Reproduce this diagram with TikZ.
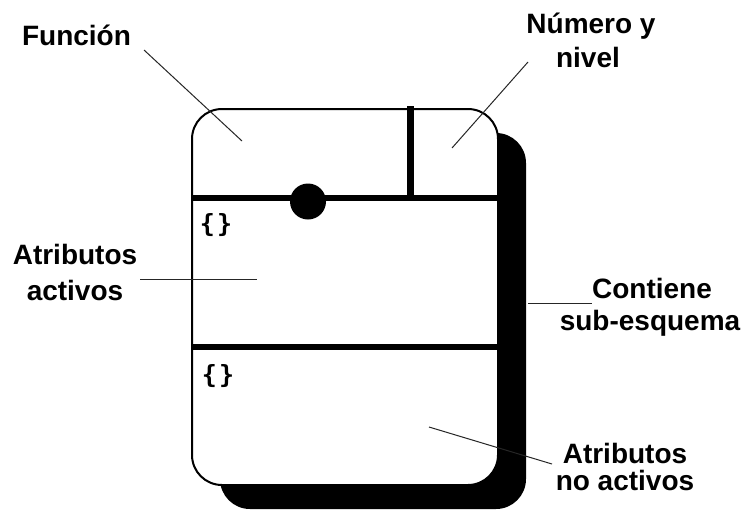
\documentclass[tikz,border=0pt]{standalone}
\usepackage{fontspec}
\setmainfont{Liberation Sans}
\newfontfamily\bracefont{DejaVu Sans Mono}
\begin{document}
\begin{tikzpicture}[x=1pt,y=-1pt,
  lbl/.style={font=\fontsize{28}{33}\selectfont\bfseries, anchor=base, inner sep=0pt},
  leader/.style={line width=1pt, draw=black!85},
  outline/.style={line width=2pt},
  divider/.style={line width=6.5pt},
  braces/.style={font=\bracefont\bfseries\fontsize{25}{25}\selectfont, inner sep=0pt}]
\useasboundingbox (0,0) rectangle (749,509);
% drop shadow of the card
\fill[rounded corners=30pt] (220,133) rectangle (526,509);
% the card
\draw[outline, fill=white, rounded corners=30pt] (192,109) rectangle (498,485);
% compartments
\draw[divider] (192,198) -- (498,198);
\draw[divider] (192,347) -- (498,347);
\draw[divider] (410.5,106) -- (410.5,198);
\fill (308,201.5) circle (18pt);
% attribute set markers
\node[braces] (setA) at (216,225) {\{\kern2pt\}};
\node[braces] (setB) at (218,376) {\{\kern2pt\}};
% labels
\node[lbl] (funcion) at (76.5,45) {Función};
\node[lbl] (numA) at (591,33) {Número y};
\node[lbl] (numB) at (588,67) {nivel};
\node[lbl] (actA) at (75,264) {Atributos};
\node[lbl] (actB) at (75,300) {activos};
\node[lbl] (subA) at (652,298) {Contiene};
\node[lbl] (subB) at (650,330) {sub-esquema};
\node[lbl] (noA) at (625,463) {Atributos};
\node[lbl] (noB) at (625,490) {no activos};
% leader lines
\coordinate (fA) at (144,50);   \coordinate (fB) at (242,141);
\coordinate (nA) at (528,62);   \coordinate (nB) at (452,148);
\coordinate (aA) at (140,279);  \coordinate (aB) at (257,279);
\coordinate (sA) at (528,303);  \coordinate (sB) at (592,303);
\coordinate (iA) at (429,427);  \coordinate (iB) at (552,464);
\draw[leader] (fA) -- (fB);
\draw[leader] (nA) -- (nB);
\draw[leader] (aA) -- (aB);
\draw[leader] (sA) -- (sB);
\draw[leader] (iA) -- (iB);
\end{tikzpicture}
\end{document}
